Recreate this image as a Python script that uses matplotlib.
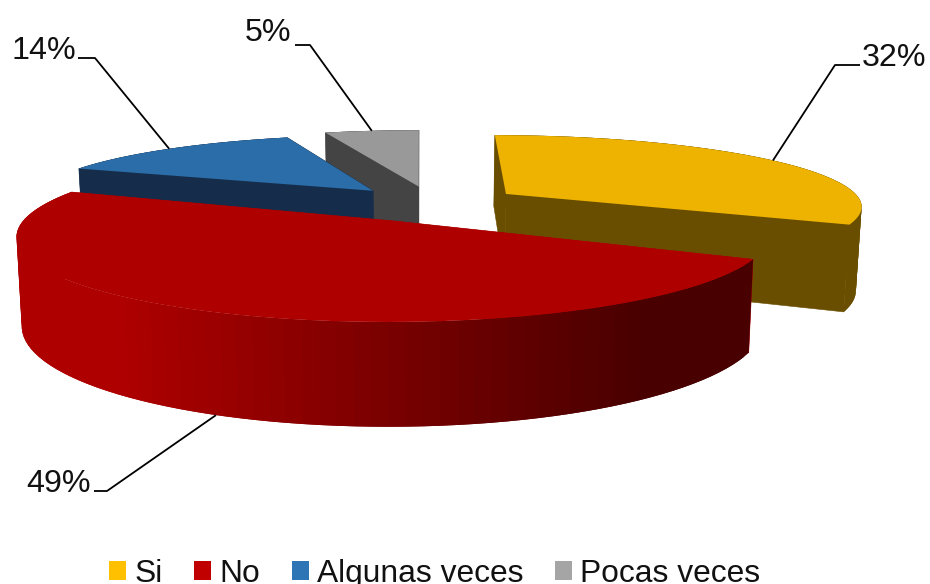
#!/usr/bin/env python3
"""
Exploded 3D pie of the answers (Si / No / Algunas veces / Pocas veces)
"""
import numpy as np
import matplotlib
matplotlib.use('Agg')
import matplotlib.pyplot as plt
from matplotlib.patches import Patch, Polygon

labels = ['Si', 'No', 'Algunas veces', 'Pocas veces']
percent = [32, 49, 14, 5]
pct_text = ['32%', '49%', '14%', '5%']

top_colors = ['#EDB300', '#AF0000', '#2B6DA8', '#999999']
wall_colors = ['#6A4E00', '#AF0000', '#152D4A', '#444444']
legend_colors = ['#FFC000', '#C00000', '#2E75B6', '#A5A5A5']
explode = [96, 104, 96, 96]
radius_x = [385, 385, 372, 385]
radius_y = [390, 430, 372, 385]

CENTER = (13.6, 190)
# perspective of the fake 3d
XC, YH, K, PLANE = 420, -260, 4.2e-4, 500
THICK = 1.18
SHRINK = 0.987


def project(x, y, bottom=False):
    """ world point on the pie plane to pixel position """
    s = 1 / (1 + K * y)
    sx = XC + x * s
    sy = YH + PLANE * s
    if bottom:
        sx = XC + (sx - XC) * SHRINK
        sy = YH + (sy - YH) * THICK
    return sx, sy


def wall_shade(x, i):
    """ the red wall fades to dark going right, the others are flat """
    if i != 1:
        return wall_colors[i]
    t = np.clip((x - 120) / 530, 0, 1)
    return (0.686 - 0.40 * t, 0, 0)


fig = plt.figure(figsize=(9.3, 5.84), dpi=100)
ax = fig.add_axes([0, 0, 1, 1])
ax.set_xlim(0, 930)
ax.set_ylim(584, 0)
ax.axis('off')
plt.rcParams['font.family'] = ['Liberation Sans', 'DejaVu Sans']

edges = np.cumsum([0] + percent) / sum(percent) * 2 * np.pi
anchors = {}

# gray first, red last, so front slices cover the back ones
for i in [3, 2, 0, 1]:
    mid = (edges[i] + edges[i + 1]) / 2
    cx = CENTER[0] + explode[i] * np.sin(mid)
    cy = CENTER[1] + explode[i] * np.cos(mid)
    theta = np.linspace(edges[i], edges[i + 1], 80)
    arc_x = cx + radius_x[i] * np.sin(theta)
    arc_y = cy + radius_y[i] * np.cos(theta)
    top_arc = [project(a, b) for a, b in zip(arc_x, arc_y)]
    low_arc = [project(a, b, True) for a, b in zip(arc_x, arc_y)]

    # radial walls
    for ex, ey in [(arc_x[0], arc_y[0]), (arc_x[-1], arc_y[-1])]:
        pts = [project(cx, cy), project(ex, ey),
               project(ex, ey, True), project(cx, cy, True)]
        ax.add_patch(Polygon(pts, fc=wall_colors[i], ec=wall_colors[i], lw=0.4))

    # outer wall in overlapping strips, no seams and no fold at the silhouette
    for j in range(len(theta) - 1):
        end = min(j + 3, len(theta))
        pts = top_arc[j:end] + low_arc[j:end][::-1]
        ax.add_patch(Polygon(pts, fc=wall_shade(top_arc[j][0], i), ec='none'))

    ax.add_patch(Polygon([project(cx, cy)] + top_arc, fc=top_colors[i], ec='none'))

    ex = cx + radius_x[i] * np.sin(mid)
    ey = cy + radius_y[i] * np.cos(mid)
    anchors[i] = project(ex, ey, i == 1)

# leaders: slice edge, elbow, end next to the label
elbows = [(835, 65), (107, 491), (95, 58), (310, 45)]
ends = [(860, 65), (94, 491), (78, 58), (295, 45)]
text_pos = [(894, 58), (58, 484), (44, 51), (268, 33)]
for i in range(4):
    xs = [anchors[i][0], elbows[i][0], ends[i][0]]
    ys = [anchors[i][1], elbows[i][1], ends[i][1]]
    ax.plot(xs, ys, color='black', lw=1.3, solid_capstyle='butt')
    ax.text(text_pos[i][0], text_pos[i][1], pct_text[i], fontsize=23.2,
            ha='center', va='center', color='#111111')

handles = [Patch(fc=c, ec='none', label=l) for c, l in zip(legend_colors, labels)]
ax.legend(handles=handles, ncol=4, frameon=False, fontsize=22.9,
          loc='lower left', bbox_to_anchor=(109, 589), bbox_transform=ax.transData,
          borderpad=0, borderaxespad=0, handlelength=0.54, handleheight=0.52,
          handletextpad=0.25, columnspacing=1.0, labelcolor='#111111')

fig.savefig('out.png', dpi=100)
